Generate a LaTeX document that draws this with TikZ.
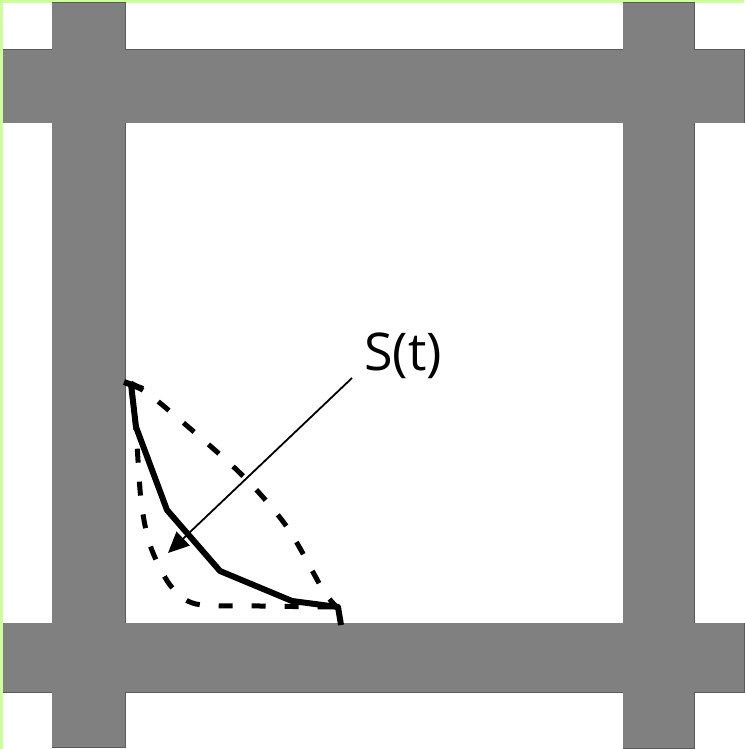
\documentclass[tikz,border=0pt]{standalone}
\usepackage{fontspec}
\newfontfamily\labelfont{Open Sans}
\usetikzlibrary{arrows.meta}
\definecolor{framegreen}{RGB}{204,255,153}
\definecolor{bargray}{RGB}{128,128,128}

\begin{document}
\begin{tikzpicture}[x=1pt,y=-1pt]
\useasboundingbox (0,0) rectangle (744,749);
\fill[white] (0,0) rectangle (744,749);
\fill[framegreen] (0,0) rectangle (744,3);
\fill[framegreen] (0,0) rectangle (3,749);
% grid bars
\draw[bargray!70!black, line width=1pt] (3,50) rectangle (744,123);
\draw[bargray!70!black, line width=1pt] (3,623) rectangle (744,692);
\draw[bargray!70!black, line width=1pt] (52,3) rectangle (125,747);
\draw[bargray!70!black, line width=1pt] (623,3) rectangle (694,748);
\fill[bargray] (3,50) rectangle (744,123);
\fill[bargray] (3,623) rectangle (744,692);
\fill[bargray] (52,3) rectangle (125,747);
\fill[bargray] (623,3) rectangle (694,748);
% bounds of the path
\draw[black, line width=5pt, dash pattern=on 14pt off 19pt] plot[smooth] coordinates {(131,383) (160,403) (240,473) (287,527) (323,590) (338,608)};
\draw[black, line width=5pt, dash pattern=on 14pt off 19pt] plot[smooth] coordinates {(131,383) (136,430) (141,500) (150,545) (170,585) (196,604) (260,606) (338,607)};
% path
\draw[black, line width=6pt, line join=round] (124,382) -- (143,389);
\draw[black, line width=6pt, line join=round] (131,384) -- (136,427) -- (167,510) -- (220,571) -- (292,601) -- (338,607) -- (341,625);
% label
\node[inner sep=0pt, font=\labelfont\fontsize{52}{60}\selectfont] (st) at (403,356) {S(t)};
\coordinate (tail) at (352,378);
\coordinate (tip) at (168,553);
\draw[black, line width=1.8pt, -{Triangle[length=21pt,width=19pt]}] (tail) -- (tip);
\end{tikzpicture}
\end{document}
